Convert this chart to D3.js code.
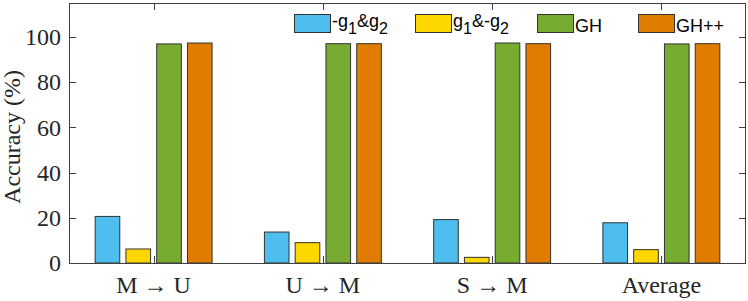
<!DOCTYPE html>
<html>
<head>
<meta charset="utf-8">
<script src="https://cdn.jsdelivr.net/npm/d3@7"></script>
<style>
  body { margin: 0; background: #fff; }
  svg { display: block; }
</style>
</head>
<body>
<div id="chart"></div>
<script>
// categories along the x axis
var categories = ['M \u2192 U', 'U \u2192 M', 'S \u2192 M', 'Average'];
// series names (TeX-ish, _ marks a subscript digit)
var seriesNames = ['-g_1&g_2', 'g_1&-g_2', 'GH', 'GH++'];
// accuracy values per series, one per category
var negG1G2 = [20.6, 13.7, 19.2, 17.8];
var g1NegG2 = [6.2, 9.0, 2.5, 5.9];
var gh = [96.9, 97.0, 97.3, 96.9];
var ghpp = [97.3, 97.0, 97.0, 97.0];
var yTicks = [0, 20, 40, 60, 80, 100];

var seriesValues = [negG1G2, g1NegG2, gh, ghpp];
var colors = ['#4DBEEE', '#FFD700', '#77AC30', '#E07D00'];

var width = 748, height = 301;
var margin = {left: 69, right: 2, top: 3, bottom: 38};
var axisColor = '#404040';
var tickLen = 7;

var svg = d3.select('#chart').append('svg')
    .attr('width', width)
    .attr('height', height);

var x = d3.scaleBand()
    .domain(categories)
    .range([margin.left, width - margin.right])
    .padding(0);

// group occupies 4/5.5 of each category slot, like a grouped bar plot
var groupW = x.bandwidth() * 4 / 5.5;
var xInner = d3.scaleBand()
    .domain(d3.range(seriesNames.length))
    .range([-groupW / 2, groupW / 2])
    .paddingInner(0.2)
    .paddingOuter(0.1);

var y = d3.scaleLinear()
    .domain([0, 115])
    .range([height - margin.bottom, margin.top]);

var x0 = margin.left, x1 = width - margin.right;
var y0 = y(0), y1 = margin.top;

// ticks (inward) on all four sides
var ticks = svg.append('g').attr('stroke', axisColor).attr('stroke-width', 1);
yTicks.forEach(function (t) {
    var ty = Math.round(y(t)) + 0.5;
    ticks.append('line').attr('x1', x0).attr('x2', x0 + tickLen).attr('y1', ty).attr('y2', ty);
    ticks.append('line').attr('x1', x1 - tickLen).attr('x2', x1).attr('y1', ty).attr('y2', ty);
});
categories.forEach(function (c) {
    var tx = Math.round(x(c) + x.bandwidth() / 2) + 0.5;
    ticks.append('line').attr('x1', tx).attr('x2', tx).attr('y1', y0).attr('y2', y0 - tickLen);
    ticks.append('line').attr('x1', tx).attr('x2', tx).attr('y1', y1).attr('y2', y1 + tickLen);
});

// bars
categories.forEach(function (c, ci) {
    var cx = x(c) + x.bandwidth() / 2;
    seriesValues.forEach(function (vals, si) {
        svg.append('rect')
            .attr('x', cx + xInner(si))
            .attr('y', y(vals[ci]))
            .attr('width', xInner.bandwidth())
            .attr('height', y(0) - y(vals[ci]))
            .attr('fill', colors[si])
            .attr('stroke', '#333')
            .attr('stroke-width', 1);
    });
});

// box
svg.append('rect')
    .attr('x', x0 + 0.5).attr('y', y1 + 0.5)
    .attr('width', x1 - x0 - 1).attr('height', y0 - y1)
    .attr('fill', 'none')
    .attr('stroke', axisColor)
    .attr('stroke-width', 1);

var serif = '"Liberation Serif", "Times New Roman", serif';

// y tick labels
svg.append('g').selectAll('text')
    .data(yTicks)
    .join('text')
    .attr('x', x0 - 8)
    .attr('y', function (d) { return y(d); })
    .attr('dy', '0.34em')
    .attr('text-anchor', 'end')
    .attr('font-family', serif)
    .attr('font-size', 24)
    .attr('fill', '#262626')
    .text(function (d) { return d; });

// x tick labels
svg.append('g').selectAll('text')
    .data(categories)
    .join('text')
    .attr('x', function (d) { return x(d) + x.bandwidth() / 2; })
    .attr('y', 292.5)
    .attr('text-anchor', 'middle')
    .attr('font-family', serif)
    .attr('font-size', 24)
    .attr('fill', '#262626')
    .text(function (d) { return d; });

// y label
svg.append('text')
    .attr('transform', 'translate(20,' + ((y0 + y1) / 2 + 4) + ') rotate(-90)')
    .attr('text-anchor', 'middle')
    .attr('font-family', serif)
    .attr('font-size', 24)
    .attr('fill', '#262626')
    .text('Accuracy (%)');

// legend, no box
var legendX = [294, 415, 537, 638];
var legend = svg.append('g');
seriesNames.forEach(function (name, i) {
    legend.append('rect')
        .attr('x', legendX[i] + 0.5).attr('y', 14.5)
        .attr('width', 36).attr('height', 18)
        .attr('fill', colors[i])
        .attr('stroke', '#333')
        .attr('stroke-width', 1);

    var hasSub = name.indexOf('_') >= 0;
    var t = legend.append('text')
        .attr('x', legendX[i] + 38)
        .attr('y', hasSub ? 27 : 31.5)
        .attr('font-family', '"Liberation Sans", Arial, sans-serif')
        .attr('font-size', 18)
        .attr('fill', '#000');
    // split on subscripts: "_1" becomes a lowered digit
    var parts = name.split(/_(\d)/);
    parts.forEach(function (p, k) {
        if (p === '') { return; }
        if (k % 2 === 1) {
            t.append('tspan').attr('dy', 6.5).attr('font-size', 16).text(p);
        } else {
            var ts = t.append('tspan').text(p);
            if (k > 0) { ts.attr('dy', -6.5); }
        }
    });
});
</script>
</body>
</html>
